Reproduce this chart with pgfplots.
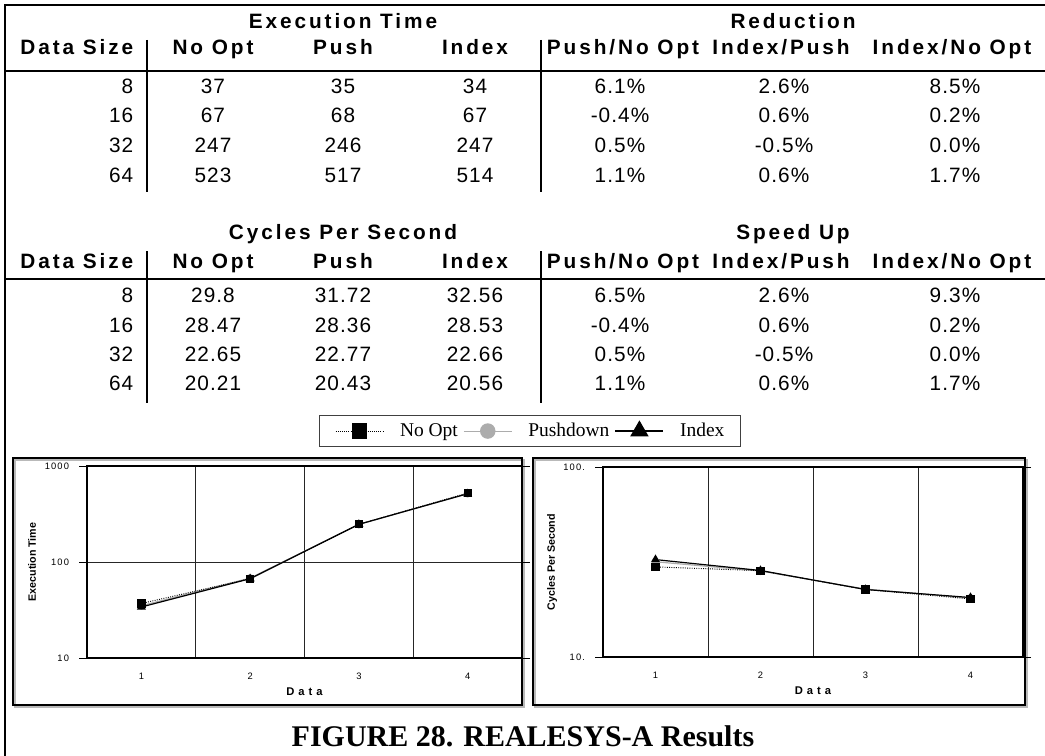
\documentclass[border=0pt]{standalone}
\usepackage{pgfplots}
\pgfplotsset{compat=1.18}
\usepackage{fontspec}
\setmainfont{Liberation Sans}
\newfontfamily\hdrfont[LetterSpace=14]{Liberation Sans}
\newfontfamily\valfont[LetterSpace=5]{Liberation Sans}
\newfontfamily\seriffont{Liberation Serif}
\newfontfamily\tickfont[LetterSpace=12]{Liberation Sans}
\newfontfamily\labfont{Liberation Sans}
\newfontfamily\datafont[LetterSpace=35]{Liberation Sans}
\newcommand\hdr{\hdrfont\bfseries\fontsize{15.6}{18}\selectfont}
\newcommand\val{\valfont\fontsize{15.6}{18}\selectfont}
\begin{document}
\begin{tikzpicture}
\path[use as bounding box] (0pt,0pt) rectangle (783.75pt,-567pt);
\begin{scope}[x=0.75pt,y=-0.75pt]
% outer frame
\draw[line width=1.6pt] (5,756) -- (5,5) -- (1045,5);
% ---------- table 1 ----------
\node[anchor=base] at (343,29) {\hdr Execution Time};
\node[anchor=base] at (793,29) {\hdr Reduction};
\node[anchor=base east] at (138,55) {\hdr Data Size};
\node[anchor=base] at (213,55) {\hdr No Opt};
\node[anchor=base] at (343,55) {\hdr Push};
\node[anchor=base] at (475,55) {\hdr Index};
\node[anchor=base] at (623,55) {\hdr Push/No Opt};
\node[anchor=base] at (781,55) {\hdr Index/Push};
\node[anchor=base] at (952,55) {\hdr Index/No Opt};
\draw[line width=2pt] (5,71) -- (1045,71);
\draw[line width=1.5pt] (147,40) -- (147,192);
\draw[line width=1.5pt] (541,40) -- (541,192);
\foreach \y/\a/\b/\c/\d/\e/\f/\g in {94/8/37/35/34/6.1\%/2.6\%/8.5\%,
  123/16/67/68/67/-0.4\%/0.6\%/0.2\%,
  153/32/247/246/247/0.5\%/-0.5\%/0.0\%,
  182/64/523/517/514/1.1\%/0.6\%/1.7\%}{
  \node[anchor=base east] at (138,\y) {\val \a};
  \node[anchor=base] at (213,\y) {\val \b};
  \node[anchor=base] at (343,\y) {\val \c};
  \node[anchor=base] at (475,\y) {\val \d};
  \node[anchor=base] at (620,\y) {\val \e};
  \node[anchor=base] at (784,\y) {\val \f};
  \node[anchor=base] at (955,\y) {\val \g};
}
% ---------- table 2 ----------
\node[anchor=base] at (343,239) {\hdr Cycles Per Second};
\node[anchor=base] at (793,239) {\hdr Speed Up};
\node[anchor=base east] at (138,268) {\hdr Data Size};
\node[anchor=base] at (213,268) {\hdr No Opt};
\node[anchor=base] at (343,268) {\hdr Push};
\node[anchor=base] at (475,268) {\hdr Index};
\node[anchor=base] at (623,268) {\hdr Push/No Opt};
\node[anchor=base] at (781,268) {\hdr Index/Push};
\node[anchor=base] at (952,268) {\hdr Index/No Opt};
\draw[line width=2pt] (5,279) -- (1045,279);
\draw[line width=1.5pt] (147,251) -- (147,403);
\draw[line width=1.5pt] (541,251) -- (541,403);
\foreach \y/\a/\b/\c/\d/\e/\f/\g in {302/8/29.8/31.72/32.56/6.5\%/2.6\%/9.3\%,
  332/16/28.47/28.36/28.53/-0.4\%/0.6\%/0.2\%,
  361/32/22.65/22.77/22.66/0.5\%/-0.5\%/0.0\%,
  390/64/20.21/20.43/20.56/1.1\%/0.6\%/1.7\%}{
  \node[anchor=base east] at (138,\y) {\val \a};
  \node[anchor=base] at (213,\y) {\val \b};
  \node[anchor=base] at (343,\y) {\val \c};
  \node[anchor=base] at (475,\y) {\val \d};
  \node[anchor=base] at (620,\y) {\val \e};
  \node[anchor=base] at (784,\y) {\val \f};
  \node[anchor=base] at (955,\y) {\val \g};
}
% chart frames with shadow
\draw[gray!55, line width=1.5pt] (15,460) rectangle (524,707);
\draw[black, line width=1.1pt] (13,458) rectangle (522,705);
\draw[gray!55, line width=1.5pt] (535,460) rectangle (1027,707);
\draw[black, line width=1.1pt] (533,458) rectangle (1025,705);
% caption
\node at (523,736) {\seriffont\bfseries\fontsize{22.5}{26}\selectfont FIGURE 28. REALESYS-A Results};
\end{scope}

\pgfplotsset{
  chartstyle/.style={
    scale only axis,
    xmin=0.5, xmax=4.5,
    xtick={1,2,3,4}, xticklabels={1,2,3,4},
    minor xtick={1.5,2.5,3.5},
    xminorgrids, ymajorgrids,
    yminorticks=false,
    minor tick length=0pt,
    tick align=outside,
    major tick length=6pt,
    xtick style={draw=none},
    ytick style={black, line width=0.6pt},
    minor x grid style={black!85, line width=0.7pt},
    major grid style={black!85, line width=0.7pt},
    axis line style={black, line width=0.8pt},
    tick label style={font=\tickfont\fontsize{7}{8}\selectfont},
    xticklabel style={yshift=-2pt},
    yticklabel style={xshift=-4pt},
    every axis x label/.style={at={(axis description cs:0.5,-0.177)}, anchor=center},
    xlabel style={font=\datafont\bfseries\fontsize{8.4}{9}\selectfont},
    ylabel style={font=\labfont\bfseries\fontsize{8}{9}\selectfont},
    xlabel={Data},
    after end axis/.code={\draw[black, line width=1.5pt] (rel axis cs:0,1) -- (rel axis cs:0,0) -- (rel axis cs:1,0);},
    legend image code/.code={\draw[mark repeat=2,mark phase=2,##1] plot coordinates {(0pt,0pt) (18pt,0pt) (36pt,0pt)};},
  }
}

\begin{axis}[ymode=log, chartstyle,
  at={(65.25pt,-493.5pt)}, anchor=south west,
  width=326.25pt, height=144pt,
  ymin=10, ymax=1000,
  ytick={10,100,1000}, yticklabels={10,100,1000},
  ylabel={Execution Time},
  ylabel style={at={(axis description cs:-0.126,0.5)}, rotate=0, anchor=center},
  legend columns=3,
  legend style={at={(axis description cs:1.018,1.182)}, anchor=center,
    draw=black!75, line width=0.9pt, fill=white,
    inner xsep=12pt, inner ysep=4pt,
    font=\seriffont\fontsize{14.6}{17}\selectfont,
    nodes={inner xsep=0pt, inner ysep=2pt},
    /tikz/every odd column/.append style={column sep=12pt},
    /tikz/every even column/.append style={column sep=4pt}},
]
\addlegendimage{black, densely dotted, line width=0.6pt, mark=square*, mark size=5.4pt, mark options={solid}}
\addlegendentry{No Opt}
\addlegendimage{gray!65, line width=0.8pt, mark=*, mark size=5.4pt, mark options={solid}}
\addlegendentry{Pushdown}
\addlegendimage{black, line width=1pt, mark=triangle*, mark size=7pt, mark options={solid}}
\addlegendentry{Index}
\addplot[forget plot, gray!65, line width=0.9pt, mark=*, mark size=2.6pt, mark options={solid}] coordinates {(1,35) (2,68) (3,246) (4,517)};
\addplot[forget plot, black, line width=0.9pt, mark=triangle*, mark size=3pt, mark options={solid}] coordinates {(1,34) (2,67) (3,247) (4,514)};
\addplot[forget plot, black, densely dotted, line width=0.7pt, mark=square*, mark size=2.7pt, mark options={solid}] coordinates {(1,37) (2,67) (3,247) (4,523)};
\end{axis}

\begin{axis}[ymode=log, chartstyle,
  at={(452.25pt,-492.75pt)}, anchor=south west,
  width=315pt, height=142.5pt,
  ymin=10, ymax=100,
  ytick={10,100}, yticklabels={10.,100.},
  ylabel={Cycles Per Second},
  ylabel style={at={(axis description cs:-0.121,0.5)}, rotate=0, anchor=center},
]
\addplot[gray!65, line width=0.9pt, mark=*, mark size=2.6pt, mark options={solid}] coordinates {(1,31.72) (2,28.36) (3,22.77) (4,20.43)};
\addplot[black, line width=0.9pt, mark=triangle*, mark size=3pt, mark options={solid}] coordinates {(1,32.56) (2,28.53) (3,22.66) (4,20.56)};
\addplot[black, densely dotted, line width=0.7pt, mark=square*, mark size=2.7pt, mark options={solid}] coordinates {(1,29.8) (2,28.47) (3,22.65) (4,20.21)};
\end{axis}
\end{tikzpicture}
\end{document}
